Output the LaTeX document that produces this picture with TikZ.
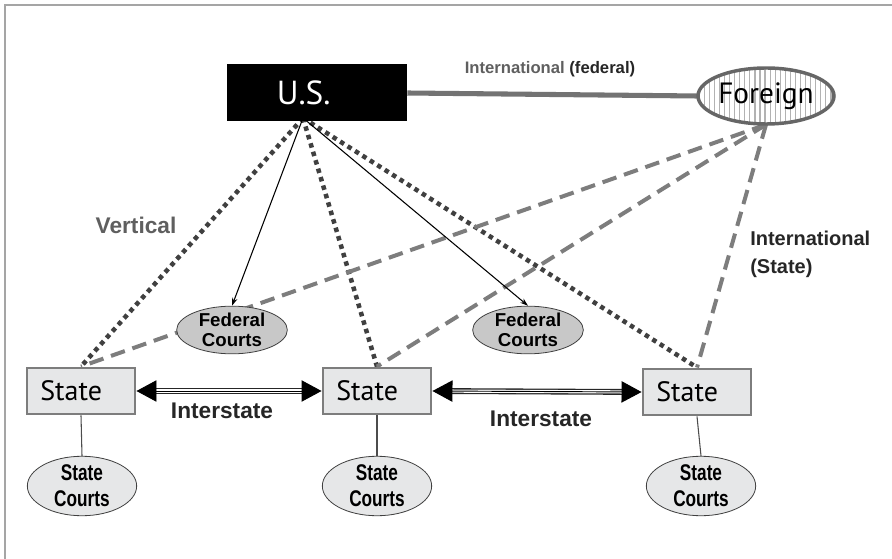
\documentclass[tikz,border=0pt]{standalone}
\usepackage{fontspec}
\setmainfont{Liberation Sans}
\newfontfamily\boxfont{PT Sans}
\newfontfamily\narrowfont[FakeStretch=0.76]{Liberation Sans}
\usepackage{xcolor}
\usetikzlibrary{arrows.meta,shapes.geometric,patterns.meta,backgrounds}
\definecolor{boxgray}{RGB}{230,231,232}
\definecolor{edgegray}{RGB}{125,125,125}
\definecolor{dotgray}{RGB}{64,64,64}
\definecolor{dashgray}{RGB}{125,125,125}
\definecolor{fedgray}{RGB}{200,200,200}
\definecolor{labgray}{RGB}{95,95,95}
\definecolor{framegray}{RGB}{165,165,165}

\begin{document}
\begin{tikzpicture}[x=0.75pt, y=-0.75pt,
    usbox/.style={fill=black, text=white, minimum width=135pt, minimum height=42.75pt, inner sep=0pt, font=\boxfont\fontsize{25}{28}\selectfont},
    foreign/.style={ellipse, draw=black!60, line width=2.6pt, pattern={Lines[angle=90,distance=3.8pt,line width=0.9pt]}, pattern color=black!30, minimum width=102pt, minimum height=42pt, inner sep=0pt, font=\boxfont\fontsize{22}{25}\selectfont},
    statebox/.style={draw=edgegray, line width=2.2pt, fill=boxgray, minimum width=81pt, minimum height=34.5pt, text width=61pt, align=left, inner xsep=9.75pt, inner ysep=0pt, font=\boxfont\fontsize{21}{24}\selectfont},
    fedcourt/.style={ellipse, draw=black!75, line width=0.6pt, fill=fedgray, minimum width=83pt, minimum height=34pt, inner sep=0pt, align=center, font=\bfseries\fontsize{14}{15}\selectfont},
    statecourt/.style={ellipse, draw=black!75, line width=0.6pt, fill=boxgray, minimum width=82pt, minimum height=41pt, inner sep=0pt, align=center, font=\narrowfont\bfseries\fontsize{17}{19.5}\selectfont},
    lab/.style={font=\bfseries\fontsize{17}{20}\selectfont, text=black!85, inner sep=0pt},
    vert/.style={draw=dotgray, line width=3.4pt, dash pattern=on 3.4pt off 3.2pt},
    intl/.style={draw=dashgray, line width=3pt, dash pattern=on 11pt off 6pt},
    fedarr/.style={-{Stealth[length=6pt,width=4pt]}, line width=0.8pt, draw=black},
    stem/.style={draw=black!70, line width=0.8pt},
    interarr/.style={{Triangle[length=15pt,width=16pt]}-{Triangle[length=15pt,width=16pt]}, line width=0.7pt, draw=black},
    interdbl/.style={draw=black!85, line width=1pt, double=white, double distance=2.4pt, shorten <=14pt, shorten >=14pt}
  ]
  \useasboundingbox (0,0) rectangle (892,559);
  \draw[framegray, line width=1.5pt] (5,559) -- (5,5) -- (892,5);

  \node[usbox] (us) at (317,93) {U.S.\hspace*{20pt}};
  \node[foreign] (fr) at (766,96) {Foreign};
  \node[statebox] (s1) at (81,391) {State};
  \node[statebox] (s2) at (377,391) {State};
  \node[statebox] (s3) at (697,392) {State};
  \node[fedcourt] (f1) at (232,330) {Federal\\Courts};
  \node[fedcourt] (f2) at (528,330) {Federal\\Courts};
  \node[statecourt] (c1) at (82,486) {State\\Courts};
  \node[statecourt] (c2) at (377,486) {State\\Courts};
  \node[statecourt] (c3) at (701,486) {State\\Courts};
  \coordinate (hub) at (303,118);

  \node[lab, text=labgray] (vlab) at (136,225) {Vertical};
  \node[lab] (ilab1) at (222,411) {Interstate};
  \node[lab] (ilab2) at (541,419) {Interstate};
  \node[font=\bfseries\fontsize{12.5}{14}\selectfont, text=black!85, inner sep=0pt] (flab) at (550,69) {\textcolor{labgray}{International} (federal)};
  \node[font=\bfseries\fontsize{15}{21}\selectfont, text=black!85, align=left, anchor=west, inner sep=0pt] (slab) at (750,254) {International\\(State)};

  \begin{pgfonlayer}{background}
    \draw[draw=black!55, line width=3.8pt] (us.east) -- (fr.west);
    \draw[vert] (hub) -- (s1.north);
    \draw[vert] (hub) -- (s2.north);
    \draw[vert] (hub) -- (s3.north);
    \draw[intl] (fr.south) -- (s1.north);
    \draw[intl] (fr.south) -- (s2.north);
    \draw[intl] (fr.south) -- (s3.north);
    \draw[fedarr] (hub) -- (f1.north);
    \draw[fedarr] (hub) -- (f2.north);
    \draw[stem] (s1.south) -- (c1.north);
    \draw[stem] (s2.south) -- (c2.north);
    \draw[stem] (s3.south) -- (c3.north);
  \end{pgfonlayer}
  \draw[interdbl] (s1.east) -- (s2.west);
  \draw[interarr] (s1.east) -- (s2.west);
  \draw[interdbl] (s2.east) -- (s3.west);
  \draw[interarr] (s2.east) -- (s3.west);
\end{tikzpicture}
\end{document}
